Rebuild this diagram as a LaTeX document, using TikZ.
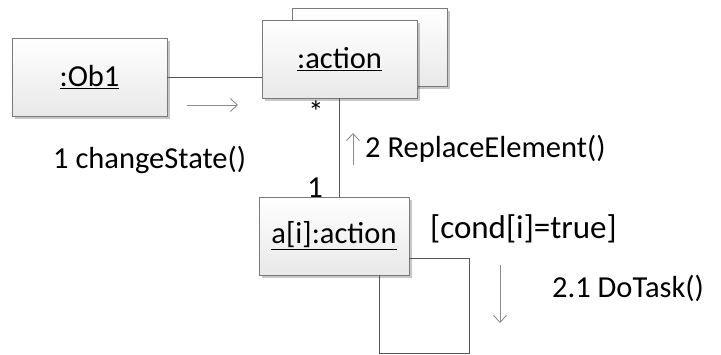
\documentclass[tikz,border=0pt]{standalone}
\usepackage{fontspec}
\setmainfont{Carlito}
\usetikzlibrary{shadows,arrows.meta}
\definecolor{boxline}{HTML}{7A7A7A}
\definecolor{connline}{HTML}{555555}
\definecolor{msgline}{HTML}{8C8C8C}
\begin{document}
\begin{tikzpicture}[x=1pt,y=-1pt,
  obj/.style={draw=boxline, line width=0.9pt, top color=white, bottom color=black!9,
    drop shadow={shadow xshift=2.5pt,shadow yshift=-2.5pt,fill=black,opacity=0.22},
    minimum width=155pt, minimum height=78pt, inner sep=0pt,
    font=\fontsize{30.5}{36}\selectfont},
  lbl/.style={font=\fontsize{30.5}{36}\selectfont, inner sep=0pt},
  conn/.style={draw=connline, line width=0.9pt},
  msg/.style={draw=msgline, line width=0.9pt, -{Straight Barb[length=7pt,width=13pt]}}]
\useasboundingbox (0,0) rectangle (721,354);

% labels drawn first
\node[lbl, anchor=base west] (lchg) at (53,168) {1 changeState()};
\node[lbl, anchor=base west] (lrep) at (365,157) {2 ReplaceElement()};
\node[lbl, anchor=base west, font=\fontsize{33}{40}\selectfont] (lcond) at (430,238) {[cond[i]=true]};
\node[lbl, anchor=base west] (ldo) at (552,297) {2.1 DoTask()};
\node[lbl] (lstar) at (316,112) {*};
\node[lbl, anchor=base] (lone) at (315,197) {1};

% objects
\node[obj] (actback) at (369.5,47.5) {};
\node[obj] (act) at (339.5,59) {\underline{:action}};
\node[obj] (ob1) at (89.5,77.5) {\underline{:Ob1}};
\node[obj, minimum width=150pt] (ai) at (334,236) {\underline{a[i]:action}};

% links
\draw[conn] (ob1.east) -- (ob1.east -| act.west);
\draw[conn] (act.south) -- (act.south |- ai.north);
\draw[conn] (ai.east |- 0,258) -- (469,258) -- (469,353) -- (379,353) -- (ai.south -| 379,0);

% message arrows
\coordinate (m1a) at (187,105);
\coordinate (m1b) at (238,105);
\draw[msg] (m1a) -- (m1b);
\coordinate (m2a) at (353,165);
\coordinate (m2b) at (353,133);
\draw[msg] (m2a) -- (m2b);
\coordinate (m3a) at (500,265);
\coordinate (m3b) at (500,323);
\draw[msg] (m3a) -- (m3b);
\end{tikzpicture}
\end{document}
